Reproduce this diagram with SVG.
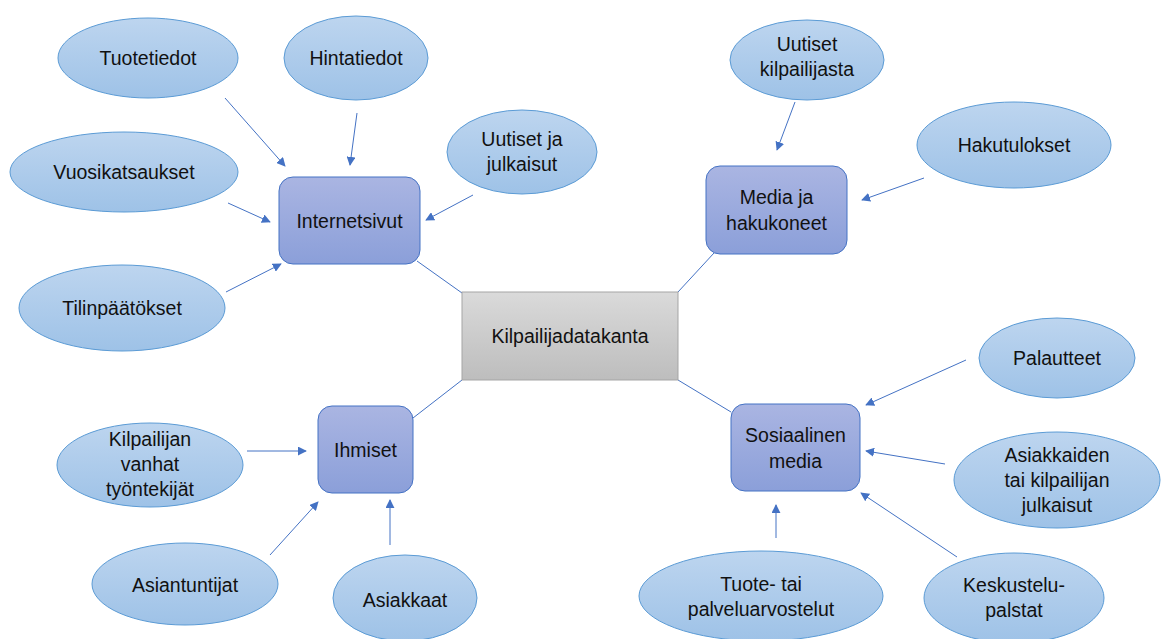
<svg xmlns="http://www.w3.org/2000/svg" width="1165" height="639" viewBox="0 0 1165 639">
<defs>
<linearGradient id="gEl" x1="0" y1="0" x2="0" y2="1"><stop offset="0" stop-color="#bdd5ef"/><stop offset="1" stop-color="#9ec2e7"/></linearGradient>
<linearGradient id="gHub" x1="0" y1="0" x2="0" y2="1"><stop offset="0" stop-color="#aab5e2"/><stop offset="1" stop-color="#8b9fd9"/></linearGradient>
<linearGradient id="gCen" x1="0" y1="0" x2="0" y2="1"><stop offset="0" stop-color="#dadada"/><stop offset="1" stop-color="#bdbdbd"/></linearGradient>
<marker id="ah" viewBox="0 0 10 10" refX="9" refY="5" markerWidth="9" markerHeight="9" markerUnits="userSpaceOnUse" orient="auto"><path d="M0,0 L10,5 L0,10 z" fill="#4472c4"/></marker>
</defs>
<style>
.el{fill:url(#gEl);stroke:#5b9bd5;stroke-width:1}
.hub{fill:url(#gHub);stroke:#4472c4;stroke-width:1}
.cen{fill:url(#gCen);stroke:#a5a5a5;stroke-width:1}
text{font-family:"Liberation Sans",Arial,sans-serif;font-size:19.5px;fill:#111;text-anchor:middle}
.ln{stroke:#4472c4;stroke-width:1;fill:none}
.ar{stroke:#4472c4;stroke-width:1;fill:none;marker-end:url(#ah)}
</style>
<g id="connectors">
<line class="ln" x1="462" y1="293" x2="417" y2="261"/>
<line class="ln" x1="678" y1="292" x2="714" y2="253"/>
<line class="ln" x1="462" y1="380" x2="413" y2="418"/>
<line class="ln" x1="678" y1="380" x2="731" y2="412"/>
<line class="ar" x1="225" y1="98" x2="285" y2="166"/>
<line class="ar" x1="357" y1="113" x2="350" y2="165"/>
<line class="ar" x1="228" y1="203" x2="270" y2="222"/>
<line class="ar" x1="473" y1="195" x2="426" y2="220"/>
<line class="ar" x1="226" y1="292" x2="281" y2="264"/>
<line class="ar" x1="795" y1="102" x2="777" y2="150"/>
<line class="ar" x1="924" y1="178" x2="862" y2="200"/>
<line class="ar" x1="966" y1="360" x2="866" y2="405"/>
<line class="ar" x1="945" y1="464" x2="866" y2="451"/>
<line class="ar" x1="957" y1="557" x2="861" y2="493"/>
<line class="ar" x1="776" y1="538" x2="776" y2="505"/>
<line class="ar" x1="247" y1="451" x2="306" y2="451"/>
<line class="ar" x1="270" y1="555" x2="318" y2="502"/>
<line class="ar" x1="390" y1="545" x2="390" y2="500"/>
</g>
<g id="center"><rect class="cen" x="462" y="292" width="216" height="88"/><text x="570" y="343">Kilpailijadatakanta</text></g>
<g id="internetsivut"><rect class="hub" x="279" y="177" width="141" height="87" rx="14"/><text x="349.5" y="228">Internetsivut</text></g>
<g id="media"><rect class="hub" x="706" y="166" width="141" height="88" rx="14"/><text x="776.5" y="204">Media ja</text><text x="776.5" y="230">hakukoneet</text></g>
<g id="ihmiset"><rect class="hub" x="318" y="406" width="95" height="87" rx="14"/><text x="365.5" y="457">Ihmiset</text></g>
<g id="sosiaalinen"><rect class="hub" x="731" y="404" width="129" height="87" rx="14"/><text x="795.5" y="442">Sosiaalinen</text><text x="795.5" y="468">media</text></g>
<g id="tuotetiedot"><ellipse class="el" cx="148" cy="58" rx="90" ry="40"/><text x="148" y="65">Tuotetiedot</text></g>
<g id="hintatiedot"><ellipse class="el" cx="356" cy="58" rx="72" ry="42"/><text x="356" y="65">Hintatiedot</text></g>
<g id="vuosikatsaukset"><ellipse class="el" cx="124" cy="172" rx="114" ry="40"/><text x="124" y="179">Vuosikatsaukset</text></g>
<g id="uutiset-julkaisut"><ellipse class="el" cx="522" cy="152" rx="75" ry="42"/><text x="522" y="146">Uutiset ja</text><text x="522" y="171">julkaisut</text></g>
<g id="tilinpaatokset"><ellipse class="el" cx="122" cy="308" rx="103" ry="43"/><text x="122" y="315">Tilinpäätökset</text></g>
<g id="uutiset-kilpailijasta"><ellipse class="el" cx="807" cy="60" rx="77" ry="40"/><text x="807" y="51">Uutiset</text><text x="807" y="76">kilpailijasta</text></g>
<g id="hakutulokset"><ellipse class="el" cx="1014" cy="145" rx="97" ry="43"/><text x="1014" y="152">Hakutulokset</text></g>
<g id="palautteet"><ellipse class="el" cx="1057" cy="358" rx="78" ry="40"/><text x="1057" y="365">Palautteet</text></g>
<g id="asiakkaiden"><ellipse class="el" cx="1057" cy="480" rx="103" ry="48"/><text x="1057" y="462">Asiakkaiden</text><text x="1057" y="487">tai kilpailijan</text><text x="1057" y="512">julkaisut</text></g>
<g id="keskustelu"><ellipse class="el" cx="1014" cy="598" rx="90" ry="45"/><text x="1014" y="592">Keskustelu-</text><text x="1014" y="617">palstat</text></g>
<g id="arvostelut"><ellipse class="el" cx="761" cy="596" rx="122" ry="45"/><text x="761" y="591">Tuote- tai</text><text x="761" y="616">palveluarvostelut</text></g>
<g id="asiakkaat"><ellipse class="el" cx="405" cy="598" rx="72" ry="43"/><text x="405" y="607">Asiakkaat</text></g>
<g id="asiantuntijat"><ellipse class="el" cx="185" cy="584" rx="93" ry="41"/><text x="185" y="592">Asiantuntijat</text></g>
<g id="vanhat"><ellipse class="el" cx="150" cy="465" rx="93" ry="42"/><text x="150" y="446">Kilpailijan</text><text x="150" y="471">vanhat</text><text x="150" y="496">työntekijät</text></g>
</svg>
